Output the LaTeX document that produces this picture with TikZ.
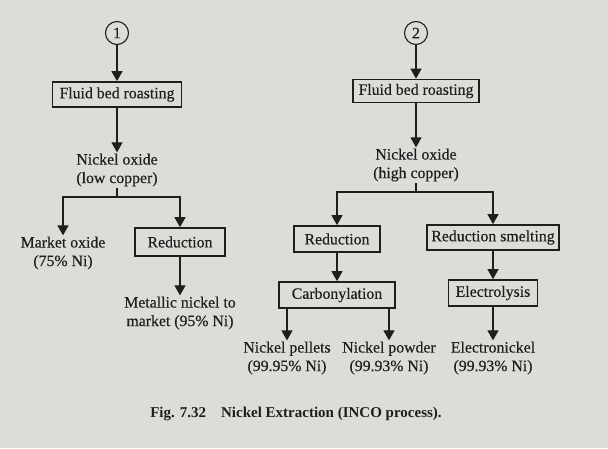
\documentclass[tikz,border=0pt]{standalone}
\usepackage{fontspec}
\setmainfont{Liberation Serif}
\newfontfamily\inkfont{Liberation Serif}[FakeBold=0.35]
\usepackage{xcolor}
\usetikzlibrary{arrows.meta,positioning,calc}

\definecolor{paper}{RGB}{220,220,216}
\definecolor{ink}{RGB}{30,30,30}

\begin{document}
\begin{tikzpicture}[
    x=1pt, y=-1pt,
    every node/.style={font=\inkfont\fontsize{15.8}{18.5}\selectfont, text=ink},
    box/.style={rectangle, draw=ink, line width=1.7pt, minimum height=25pt, inner sep=2pt, align=center},
    num/.style={circle, draw=ink, line width=1.1pt, minimum size=23pt, inner sep=0pt},
    product/.style={align=center, inner sep=1pt},
    arrow/.style={-{Triangle[width=11pt,length=10pt]}, draw=ink, line width=1.2pt},
    stem/.style={draw=ink, line width=1.2pt}
]
    \fill[paper] (0,0) rectangle (608,448);
    \useasboundingbox (0,0) rectangle (608,448);

    % route 1 (low copper)
    \node[num] (c1) at (117,33) {1};
    \node[box, minimum width=129pt] (fbr1) at (117,94.5) {Fluid bed roasting};
    \node[product] (ox1) at (117,170) {Nickel oxide\\(low copper)};
    \coordinate (br1) at (117,197);
    \node[product] (mkt) at (63,253) {Market oxide\\(75\% Ni)};
    \node[box, minimum width=90pt, minimum height=28pt] (red1) at (180,242) {Reduction};
    \node[product] (met) at (180,313) {Metallic nickel to\\market (95\% Ni)};

    \draw[arrow] (c1) -- (fbr1);
    \draw[arrow] (fbr1) -- (ox1);
    \draw[stem] (ox1) -- (br1);
    \draw[arrow] (br1) -| (mkt.north);
    \draw[arrow] (br1) -| (red1.north);
    \draw[arrow] (red1) -- (met);

    % route 2 (high copper)
    \node[num] (c2) at (416,33) {2};
    \node[box, minimum width=126pt, minimum height=23pt] (fbr2) at (416,91) {Fluid bed roasting};
    \node[product] (ox2) at (416,165) {Nickel oxide\\(high copper)};
    \coordinate (br2) at (416,192);
    \node[box, minimum width=86pt, minimum height=26pt] (red2) at (337,239) {Reduction};
    \node[box, minimum width=132pt] (rsm) at (493,237.5) {Reduction smelting};
    \node[box, minimum width=116pt, minimum height=26pt] (carb) at (337,295) {Carbonylation};
    \node[box, minimum width=89pt, minimum height=26pt] (elec) at (493,293) {Electrolysis};
    \node[product] (pel) at (287,358) {Nickel pellets\\(99.95\% Ni)};
    \node[product] (pow) at (389,358) {Nickel powder\\(99.93\% Ni)};
    \node[product] (eni) at (493,358) {Electronickel\\(99.93\% Ni)};

    \draw[arrow] (c2) -- (fbr2);
    \draw[arrow] (fbr2) -- (ox2);
    \draw[stem] (ox2) -- (br2);
    \draw[arrow] (br2) -| (red2.north);
    \draw[arrow] (br2) -| (rsm.north);
    \draw[arrow] (red2) -- (carb);
    \draw[arrow] (rsm) -- (elec);
    \draw[arrow] (carb.south -| pel.north) -- (pel.north);
    \draw[arrow] (carb.south -| pow.north) -- (pow.north);
    \draw[arrow] (elec) -- (eni);

    \node[font=\bfseries\fontsize{15}{18}\selectfont] (cap) at (296,414) {Fig. 7.32\quad Nickel Extraction (INCO process).};
\end{tikzpicture}
\end{document}
